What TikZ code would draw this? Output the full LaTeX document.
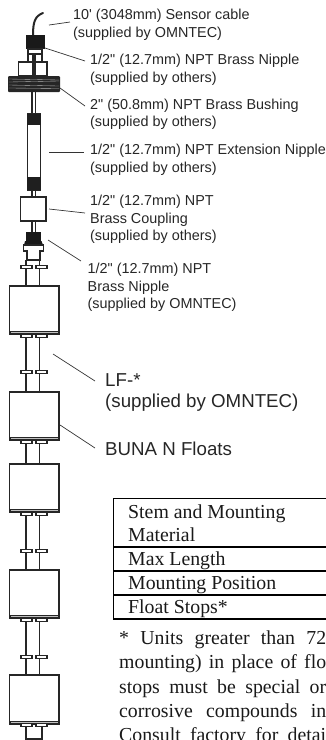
\documentclass[tikz,border=0pt]{standalone}
\usepackage{fontspec}
\setmainfont{Liberation Serif}
\newfontfamily\arialfont{Liberation Sans}
\tikzset{
  x=1pt,y=-1pt,
  part/.style={draw=black!85,line width=1.4pt,fill=white},
  rod/.style={draw=black!85,line width=1.4pt},
  lead/.style={draw=black!80,line width=.7pt},
  lab/.style={anchor=west,inner sep=0pt,font=\arialfont\fontsize{14.4}{16}\selectfont,text=black!85},
  labb/.style={anchor=west,inner sep=0pt,font=\arialfont\fontsize{18.7}{20}\selectfont,text=black!85},
  tab/.style={anchor=base west,inner sep=0pt,font=\fontsize{19.8}{22}\selectfont,text=black!90},
  tline/.style={draw=black,line width=1.2pt},
}
\newcommand{\flangepair}[1]{%
  \draw[part,line width=1.3pt] (21,#1-1.6) rectangle (32,#1+1.6);
  \draw[part,line width=1.3pt] (36,#1-1.6) rectangle (47,#1+1.6);}
\newcommand{\floatbox}[2]{%
  \draw[part] (9.5,#1) rectangle (59,#2);
  \fill[black!85] (9.5,#2-3.2) rectangle (59,#2);
  \fill[white!75!black] (10.5,#2-2) rectangle (58,#2-1.5);}
\newcommand{\rods}[2]{%
  \draw[rod] (26,#1) -- (26,#2);
  \draw[rod] (39.5,#1) -- (39.5,#2);}
\newcommand{\justline}[1]{\hbox to 207pt{\spaceskip=.25em plus 1fil\relax #1}}
\begin{document}
\begin{tikzpicture}
\useasboundingbox (0,0) rectangle (326,740);
% cable
\draw[black!85,line width=2pt,line cap=round] (43,13) .. controls (35,16) and (33,22) .. (33,35);
% cap and nipple
\fill[black!90] (26,35) rectangle (44.5,49);
\draw[part] (28,49) rectangle (42,54);
\draw[part] (28,54) rectangle (42,62);
% top coupling
\draw[part] (18.5,62) rectangle (47,76);
\fill[black!85] (32,54) rectangle (35.5,76);
% bushing
\fill[black!85,rounded corners=1pt] (8,76) rectangle (60,92);
\foreach \yy/\dd in {79/1,82/-1,85/1,88/0.5}
  \draw[white!70!black,line width=.35pt] (9,\yy) -- (59,\yy+\dd);
% stem
\draw[rod] (32,92) -- (32,114) (35.5,92) -- (35.5,114);
% extension nipple
\draw[part] (27.5,114) rectangle (40.5,190);
\fill[black!88] (27,114) rectangle (41,125);
\fill[black!88] (27,177) rectangle (41,190);
\draw[rod] (32,190) -- (32,197) (35.5,190) -- (35.5,197);
% coupling
\draw[part] (20.5,197) rectangle (46,221);
\draw[rod] (32,221) -- (32,232) (35.5,221) -- (35.5,232);
% lower nipple
\fill[black!90] (26,232) rectangle (41,241);
\fill[black!90] (25,241) -- (41.5,241) -- (43,245) -- (24,245) -- cycle;
\draw[part] (23.5,245) -- (43.5,245) -- (43.5,251) -- (40,251) -- (40,260) -- (27,260) -- (27,251) -- (23.5,251) -- cycle;
% floats and rods
\rods{260}{286}
\flangepair{267}
\floatbox{286}{334}
\rods{334}{392}
\flangepair{336}
\flangepair{372}
\floatbox{392}{440}
\rods{440}{464}
\flangepair{442}
\floatbox{464}{512}
\rods{512}{570}
\flangepair{514}
\flangepair{551}
\floatbox{570}{618}
\rods{618}{675}
\flangepair{620}
\flangepair{657}
\floatbox{675}{724}
\draw[rod] (26,726) -- (26,739) -- (42,739) -- (42,726);
\flangepair{725}
% labels
\node[lab] (l1) at (73,16) {10' (3048mm) Sensor cable};
\node[lab] (l1b) at (73,33.5) {(supplied by OMNTEC)};
\node[lab] (l2) at (90,61) {1/2" (12.7mm) NPT Brass Nipple};
\node[lab] (l2b) at (90,78.5) {(supplied by others)};
\node[lab] (l3) at (90,105.5) {2" (50.8mm) NPT Brass Bushing};
\node[lab] (l3b) at (90,123) {(supplied by others)};
\node[lab] (l4) at (90,151) {1/2" (12.7mm) NPT Extension Nipple};
\node[lab] (l4b) at (90,168.5) {(supplied by others)};
\node[lab] (l5) at (90,202) {1/2" (12.7mm) NPT};
\node[lab] (l5b) at (90,219.5) {Brass Coupling};
\node[lab] (l5c) at (90,237) {(supplied by others)};
\node[lab] (l6) at (87.5,270) {1/2" (12.7mm) NPT};
\node[lab] (l6b) at (87.5,287.5) {Brass Nipple};
\node[lab] (l6c) at (87.5,305) {(supplied by OMNTEC)};
\node[labb] (l7) at (105,380) {LF-*};
\node[labb] (l7b) at (105,402.5) {(supplied by OMNTEC)};
\node[labb] (l8) at (105,449) {BUNA N Floats};
% leaders
\coordinate (c1) at (49,25);\coordinate (c2) at (45,48);\coordinate (c3) at (60,88);
\coordinate (c4) at (49,152);\coordinate (c5) at (49,209);\coordinate (c6) at (48,240);
\coordinate (c7) at (53,354);\coordinate (c8) at (60,425);
\draw[lead] (c1) -- (70,22);
\draw[lead] (c2) -- (85,61);
\draw[lead] (c3) -- (85,106);
\draw[lead] (c4) -- (84,152);
\draw[lead] (c5) -- (85,213);
\draw[lead] (c6) -- (81,261);
\draw[lead] (c7) -- (95,381);
\draw[lead] (c8) -- (95,448);
% table
\draw[tline] (326,498.5) -- (113.5,498.5) -- (113.5,619) -- (326,619);
\draw[tline] (113.5,547) -- (326,547);
\draw[tline] (113.5,571) -- (326,571);
\draw[tline] (113.5,595) -- (326,595);
\node[tab] (t1) at (128,518.5) {Stem and Mounting};
\node[tab] (t2) at (128,541) {Material};
\node[tab] (t3) at (128,565) {Max Length};
\node[tab] (t4) at (128,589) {Mounting Position};
\node[tab] (t5) at (128,613.5) {Float Stops*};
\node[tab] (p1) at (119,644) {\justline{* Units greater than 72}};
\node[tab] (p2) at (119,668) {\justline{mounting) in place of flo}};
\node[tab] (p3) at (119,693) {\justline{stops must be special or}};
\node[tab] (p4) at (119,717) {\justline{corrosive compounds in}};
\node[tab] (p5) at (119,741) {\justline{Consult factory for detai}};
\end{tikzpicture}
\end{document}
